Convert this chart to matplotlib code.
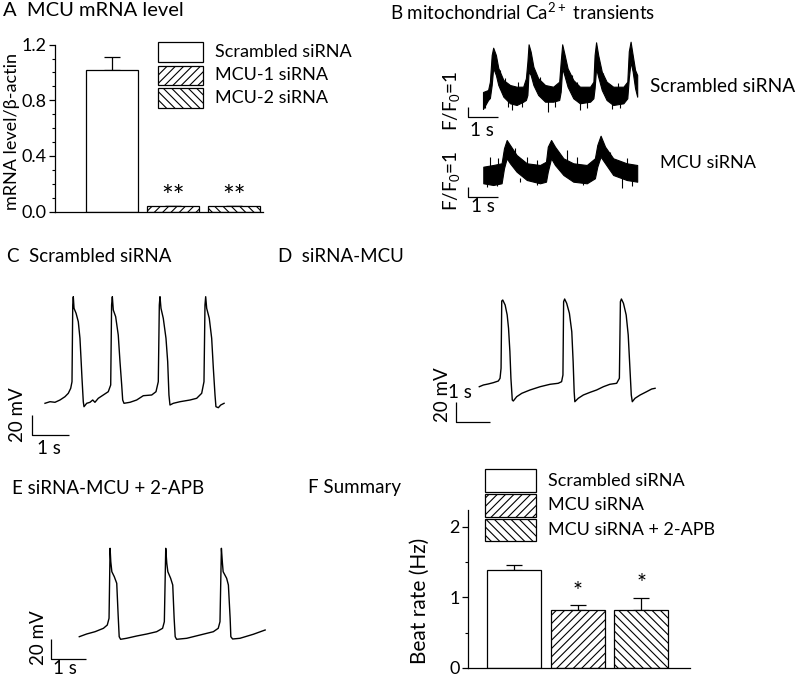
import matplotlib
matplotlib.use("Agg")
import matplotlib.pyplot as plt
from matplotlib.patches import Rectangle

plt.rcParams['font.family'] = ['Lato', 'DejaVu Sans']
plt.rcParams['mathtext.default'] = 'regular'
plt.rcParams['hatch.linewidth'] = 0.8

# ---- data -------------------------------------------------------------
# A: MCU mRNA level
mrna_groups = ["Scrambled siRNA", "MCU-1 siRNA", "MCU-2 siRNA"]
mrna_mean = [1.02, 0.04, 0.04]
mrna_err = [0.09, 0.003, 0.003]
mrna_marks = ["", "**", "**"]

# F: beat rate summary
beat_groups = ["Scrambled siRNA", "MCU siRNA", "MCU siRNA + 2-APB"]
beat_mean = [1.39, 0.82, 0.82]
beat_err = [0.07, 0.07, 0.17]
beat_marks = ["", "*", "*"]

# B: mitochondrial Ca2+ transients (upper / lower edge of the noisy band, F/F0)
ca_scr_t = [0.00, 0.17, 0.23, 0.29, 0.34, 0.43, 0.51, 0.68, 0.90, 1.12, 1.34, 1.43,
            1.48, 1.52, 1.59, 1.68, 1.84, 2.07, 2.34, 2.54, 2.59, 2.64, 2.71, 2.82,
            3.01, 3.23, 3.57, 3.68, 3.72, 3.77, 3.84, 3.96, 4.12, 4.34, 4.68, 4.81,
            4.86, 4.92, 4.99, 5.07, 5.14]
ca_scr_hi = [1.50, 1.70, 2.53, 5.20, 5.93, 5.20, 3.90, 2.70, 2.20, 2.03, 2.03, 2.87,
             4.53, 6.27, 5.53, 4.03, 2.87, 2.20, 2.03, 2.53, 4.53, 6.27, 5.37, 3.87,
             2.70, 2.03, 2.03, 2.53, 5.20, 6.47, 5.20, 3.53, 2.53, 2.03, 2.03, 2.53,
             5.57, 6.53, 5.20, 3.70, 3.20]
ca_scr_lo = [-0.20, 0.70, 0.90, 2.20, 3.90, 3.20, 2.20, 1.03, 0.37, 0.20, 0.53, 0.70,
             1.20, 3.53, 3.20, 2.20, 1.20, 0.53, 0.53, 0.70, 1.53, 3.87, 3.20, 2.03,
             0.87, 0.37, 0.53, 0.87, 1.87, 3.87, 3.03, 1.70, 0.70, 0.20, 0.37, 0.87,
             2.87, 4.53, 3.53, 1.87, 1.03]
ca_scr_spike_dn_t = [0.07, 0.84, 0.96, 1.29, 2.18, 2.40, 3.23, 3.46, 4.29, 4.57]
ca_scr_spike_dn = [-0.07, 0.03, -0.30, 0.03, -0.53, 0.03, -0.30, -0.07, -0.20, -0.07]
ca_scr_spike_up_t = [0.57, 0.73, 1.18, 1.90, 2.96, 3.12, 4.01, 4.51]
ca_scr_spike_up = [3.70, 2.87, 2.53, 3.03, 3.20, 2.53, 3.37, 2.37]

ca_mcu_t = [0.01, 0.34, 0.62, 0.70, 0.79, 0.90, 1.12, 1.46, 1.90, 2.10, 2.16, 2.27,
            2.40, 2.68, 3.01, 3.46, 3.73, 3.81, 3.92, 4.07, 4.34, 4.79, 5.14]
ca_mcu_hi = [1.73, 1.90, 2.07, 3.57, 4.40, 3.90, 2.90, 2.07, 1.90, 2.23, 3.73, 4.40,
             3.73, 2.57, 2.07, 1.90, 2.57, 3.90, 4.83, 3.73, 2.57, 2.07, 1.90]
ca_mcu_lo = [0.07, -0.10, 0.07, 1.57, 2.57, 2.07, 1.23, 0.40, 0.07, 0.23, 1.23, 2.57,
             1.90, 0.90, 0.23, 0.07, 0.57, 1.73, 2.73, 2.07, 0.90, 0.40, 0.23]
ca_mcu_spike_dn_t = [0.12, 0.46, 1.23, 1.79, 3.34, 4.62, 4.96]
ca_mcu_spike_dn = [-0.27, -0.17, 0.23, -0.10, -0.10, -0.43, -0.17]
ca_mcu_spike_up_t = [0.23, 0.51, 1.07, 1.46, 1.79, 2.79, 3.12, 4.23, 4.79]
ca_mcu_spike_up = [2.73, 2.57, 3.57, 2.73, 2.40, 3.40, 2.73, 3.23, 2.57]

# C: action potentials, scrambled siRNA (s, mV)
ap_scr_t = [0.00, 0.135, 0.27, 0.405, 0.54, 0.63, 0.695, 0.73, 0.75, 0.765, 0.785, 0.84,
            0.90, 0.945, 0.973, 1.00, 1.035, 1.054, 1.127, 1.216, 1.29, 1.35, 1.44, 1.575,
            1.71, 1.776, 1.80, 1.82, 1.846, 1.91, 1.98, 2.027, 2.073, 2.10, 2.135, 2.297,
            2.478, 2.657, 2.884, 3.00, 3.062, 3.09, 3.108, 3.135, 3.197, 3.27, 3.316, 3.35,
            3.378, 3.468, 3.65, 3.92, 4.10, 4.235, 4.297, 4.324, 4.343, 4.37, 4.44, 4.505,
            4.55, 4.595, 4.62, 4.685, 4.75, 4.84]
ap_scr_v = [-60.3, -58.7, -59.3, -57.0, -53.7, -50.3, -45.3, -38.7, 38.0, 46.3, 34.7, 29.7,
            21.3, 4.7, -15.3, -35.3, -58.7, -63.7, -60.3, -59.3, -57.0, -59.3, -55.3, -52.0,
            -48.7, -42.0, 38.0, 46.3, 33.0, 26.3, 8.0, -18.7, -42.0, -57.0, -60.3, -59.3,
            -57.0, -52.7, -52.0, -48.7, -38.7, 38.0, 46.3, 34.7, 24.7, 4.7, -18.7, -52.0,
            -62.0, -60.3, -58.7, -57.0, -55.3, -50.3, -38.7, 38.0, 46.3, 34.7, 24.7, 4.7,
            -25.3, -52.0, -63.7, -64.7, -62.0, -60.3]

# D: action potentials, siRNA-MCU
ap_mcu_t = [0.00, 0.12, 0.26, 0.41, 0.56, 0.61, 0.64, 0.66, 0.69, 0.76, 0.82, 0.86,
            0.90, 0.93, 0.97, 1.00, 1.10, 1.25, 1.49, 1.79, 2.08, 2.32, 2.42, 2.46,
            2.48, 2.51, 2.57, 2.65, 2.72, 2.76, 2.79, 2.81, 2.91, 3.06, 3.26, 3.45,
            3.65, 3.84, 4.04, 4.12, 4.15, 4.18, 4.24, 4.32, 4.38, 4.43, 4.47, 4.50,
            4.58, 4.73, 4.92, 5.07, 5.17]
ap_mcu_v = [-50.2, -48.5, -47.5, -46.2, -44.5, -41.8, -31.8, 35.5, 36.5, 31.5, 21.5, 8.2,
            -15.2, -41.8, -63.5, -64.5, -60.2, -56.8, -53.5, -50.2, -47.8, -46.8, -45.2, -38.5,
            34.8, 37.5, 33.2, 23.2, 4.8, -25.2, -55.2, -65.2, -61.8, -58.5, -55.8, -53.5,
            -50.2, -47.8, -46.8, -41.8, 34.8, 37.5, 33.2, 21.5, 1.5, -31.8, -58.5, -65.2,
            -61.8, -58.5, -55.2, -52.5, -51.8]

# E: action potentials, siRNA-MCU + 2-APB
ap_apb_t = [0.00, 0.21, 0.45, 0.69, 0.80, 0.85, 0.88, 0.90, 0.93, 1.00, 1.07, 1.11,
            1.14, 1.18, 1.35, 1.64, 1.93, 2.21, 2.38, 2.43, 2.47, 2.50, 2.53, 2.61,
            2.67, 2.71, 2.74, 2.78, 3.07, 3.45, 3.83, 3.97, 4.02, 4.06, 4.09, 4.11,
            4.21, 4.26, 4.31, 4.33, 4.38, 4.59, 4.97, 5.31]
ap_apb_v = [-62.4, -59.7, -57.4, -54.0, -50.7, -44.0, 26.0, 12.6, 2.6, -2.4, -9.0, -40.7,
            -62.4, -65.0, -64.0, -61.7, -59.7, -57.4, -54.0, -47.4, 26.0, 11.0, 2.6, -4.0,
            -10.7, -44.0, -62.4, -65.0, -64.0, -60.7, -57.4, -54.0, -47.4, 26.0, 11.0, 2.6,
            -4.0, -10.7, -44.0, -62.4, -64.7, -64.0, -60.0, -55.7]

# ---- layout helpers ---------------------------------------------------
W, H = 800, 678
fig = plt.figure(figsize=(W / 100, H / 100), dpi=100)


def px_axes(x0, y0, x1, y1, **kw):
    return fig.add_axes([x0 / W, 1 - y1 / H, (x1 - x0) / W, (y1 - y0) / H], **kw)


def trace_axes(x0, y0, x1, y1, t_left, px_per_t, v_top, px_per_v):
    ax = px_axes(x0, y0, x1, y1)
    ax.set_xlim(t_left, t_left + (x1 - x0) / px_per_t)
    ax.set_ylim(v_top - (y1 - y0) / px_per_v, v_top)
    ax.axis("off")
    return ax


def scale_bar(ax, t0, v0, dt, dv):
    ax.plot([t0, t0, t0 + dt], [v0 + dv, v0, v0], color="black", lw=0.9,
            solid_capstyle="butt")


ov = px_axes(0, 0, W, H, zorder=10)
ov.set_xlim(0, W)
ov.set_ylim(H, 0)
ov.axis("off")
ov.patch.set_visible(False)


def label(x, y, s, size=13, rot=0, ha="left"):
    ov.text(x, y, s, fontsize=size, rotation=rot, ha=ha, va="center")


hatches = ["", "////", "\\\\\\\\"]


def legend_boxes(x, ys, h, w, names, tx):
    for (y, hh), name, hat in zip(zip(ys, h), names, hatches):
        ov.add_patch(Rectangle((x, y), w, hh, facecolor="white", edgecolor="black",
                               lw=0.9, hatch=hat))
        label(tx, y + hh / 2, name, size=13)


def bar_panel(ax, means, errs, marks, mark_y, mark_size, lim, major, minor, fmt, width):
    xs = range(len(means))
    for i in xs:
        ax.bar(i, means[i], width=width, color="white", edgecolor="black", lw=0.9,
               hatch=hatches[i], zorder=2)
        ax.errorbar(i, means[i], yerr=[[0], [errs[i]]], color="black", lw=0.9,
                    capsize=6, capthick=0.9, zorder=1)
        if marks[i]:
            ax.text(i, mark_y[i], marks[i], ha="center", va="center",
                    fontsize=mark_size)
    ax.set_ylim(0, lim)
    ax.set_yticks(major)
    ax.set_yticklabels([fmt % v for v in major], fontsize=13)
    ax.set_yticks(minor, minor=True)
    ax.set_xticks([])
    for s in ("top", "right"):
        ax.spines[s].set_visible(False)
    for s in ("left", "bottom"):
        ax.spines[s].set_linewidth(0.9)
    ax.tick_params(axis="y", which="major", length=4, width=0.9, pad=2)
    ax.tick_params(axis="y", which="minor", length=2, width=0.8)
    ax.patch.set_visible(False)


# ---- A ----------------------------------------------------------------
axA = px_axes(55, 44.6, 263, 211.7)
axA.set_xlim(-0.934, 2.475)
bar_panel(axA, mrna_mean, mrna_err, mrna_marks, [0, 0.10, 0.10], 20, 1.2,
          [0, 0.4, 0.8, 1.2], [0.1, 0.2, 0.3, 0.5, 0.6, 0.7, 0.9, 1.0, 1.1], "%.1f", 0.85)
label(3, 11, "A  MCU mRNA level", size=14.5)
label(12, 131, "mRNA level/\u03b2-actin", size=13, rot=90, ha="center")
legend_boxes(158.3, [41.7, 65.7, 88.3], [20.6, 19.3, 20], 44.4, mrna_groups, 215)

# ---- B ----------------------------------------------------------------
label(390, 12, "B mitochondrial Ca$^{2+}$ transients", size=13.5)
axB1 = trace_axes(440, 35, 650, 125, -1.433, 30, 7.2, 10)
axB1.fill_between(ca_scr_t, ca_scr_lo, ca_scr_hi, color="black", lw=0.8)
axB1.vlines(ca_scr_spike_dn_t, 0.6, ca_scr_spike_dn, color="black", lw=0.8)
axB1.vlines(ca_scr_spike_up_t, 1.8, ca_scr_spike_up, color="black", lw=0.8)
scale_bar(axB1, -0.5, -1.0, 1.0, 1.0)
label(451, 101, "F/F$_0$=1", size=13.5, rot=90, ha="center")
label(470, 131, "1 s", size=13.5)
label(650, 86, "Scrambled siRNA", size=13.8)

axB2 = trace_axes(440, 125, 650, 215, -1.433, 30, 5.9, 10)
axB2.fill_between(ca_mcu_t, ca_mcu_lo, ca_mcu_hi, color="black", lw=0.8)
axB2.vlines(ca_mcu_spike_dn_t, 0.6, ca_mcu_spike_dn, color="black", lw=0.8)
axB2.vlines(ca_mcu_spike_up_t, 1.6, ca_mcu_spike_up, color="black", lw=0.8)
scale_bar(axB2, -0.5, -1.3, 1.0, 1.0)
label(451, 181, "F/F$_0$=1", size=13.5, rot=90, ha="center")
label(471, 207, "1 s", size=13.5)
label(660, 163, "MCU siRNA", size=13)

# ---- C ----------------------------------------------------------------
label(7, 257, "C  Scrambled siRNA", size=13.5)
axC = trace_axes(0, 285, 240, 455, -1.216, 37, 58, 1)
axC.plot(ap_scr_t, ap_scr_v, color="black", lw=1.0)
scale_bar(axC, -0.35, -92, 1.0, 20)
label(17.5, 415, "20 mV", size=13.5, rot=90, ha="center")
label(37, 449, "1 s", size=13.5)

# ---- D ----------------------------------------------------------------
label(278, 257, "D  siRNA-MCU", size=13.5)
axD = trace_axes(430, 285, 670, 435, -1.45, 34, 51.5, 1)
axD.plot(ap_mcu_t, ap_mcu_v, color="black", lw=1.0)
scale_bar(axD, -0.685, -85, 1.0, 20)
label(443, 395, "20 mV", size=13.5, rot=90, ha="center")
label(448, 392, "1 s", size=13.5)

# ---- E ----------------------------------------------------------------
label(12, 488, "E siRNA-MCU + 2-APB", size=13.5)
axE = trace_axes(20, 535, 270, 678, -1.694, 35, 39.3, 1)
axE.plot(ap_apb_t, ap_apb_v, color="black", lw=1.0)
scale_bar(axE, -0.817, -84.7, 1.0, 20)
label(38.5, 638, "20 mV", size=13.5, rot=90, ha="center")
label(53, 669, "1 s", size=13.5)

# ---- F ----------------------------------------------------------------
label(308, 488, "F Summary", size=13.5)
axF = px_axes(468, 510, 690, 668)
axF.set_xlim(-0.732, 2.764)
bar_panel(axF, beat_mean, beat_err, beat_marks, [0, 1.08, 1.2], 17, 2.24,
          [0, 1, 2], [0.5, 1.5], "%d", 0.85)
label(420, 601, "Beat rate (Hz)", size=15, rot=90, ha="center")
legend_boxes(485, [469, 494, 519], [23, 23, 22], 51, beat_groups, 548)

fig.savefig("out.png", dpi=100)
